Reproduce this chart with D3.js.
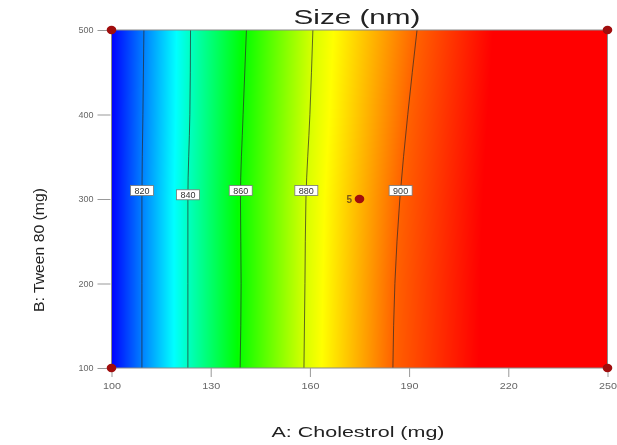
<!DOCTYPE html>
<html>
<head>
<meta charset="utf-8">
<script src="https://cdn.jsdelivr.net/npm/d3@7/dist/d3.min.js"></script>
<style>
  html, body { margin: 0; padding: 0; background: #fff; }
  #wrap { position: relative; width: 617px; height: 445px; }
  #wrap canvas, #wrap svg { position: absolute; left: 0; top: 0; }
  text { font-family: "Liberation Sans", Arial, sans-serif; }
</style>
</head>
<body>
<div id="wrap">
  <canvas id="field" width="617" height="445"></canvas>
  <svg id="chart" width="617" height="445"></svg>
</div>
<script>
// Response surface: Size (nm) vs Cholestrol (A) and Tween 80 (B)
const tweenRows = [100, 200, 300, 400, 500];          // B values where contour crossings were measured
const contourLevels = [820, 840, 860, 880, 900];
// Cholestrol value (A) of each contour at the rows above
const contour820 = [109.2, 109.2, 109.2, 109.5, 109.8];
const contour840 = [123.1, 123.1, 123.1, 123.7, 123.9];
const contour860 = [138.9, 139.2, 139.0, 139.8, 140.8];
const contour880 = [158.2, 158.5, 158.8, 160.0, 160.9];
const contour900 = [185.1, 185.7, 187.2, 189.6, 192.4];
const contourA = [contour820, contour840, contour860, contour880, contour900];
// Response at the A = 100 and A = 250 edges
const edgeLowSize = [806, 806, 806, 806, 806];
const edgeHighSize = [925, 925, 925, 925, 925];
// Colour ramp of the response
const colorSizes = [806, 834, 859, 884, 910];
const colorRamp = ["#0000ff", "#00ffff", "#00ff00", "#ffff00", "#ff0000"];
// Design points
const designPoints = [
  {a: 100, b: 100, label: ""}, {a: 100, b: 500, label: ""},
  {a: 250, b: 100, label: ""}, {a: 250, b: 500, label: ""},
  {a: 175, b: 300, label: "5"}
];
const xTicks = [100, 130, 160, 190, 220, 250];
const yTicks = [100, 200, 300, 400, 500];
const labelTween = [310, 305, 310, 310, 310];   // B where each contour label sits

const plotL = 111.5, plotR = 607.5, plotT = 30, plotB = 368;
const x = d3.scaleLinear().domain([100, 250]).range([plotL, plotR]);
const y = d3.scaleLinear().domain([100, 500]).range([plotB, plotT]);
const color = d3.scaleLinear().domain(colorSizes).range(colorRamp).clamp(true);

// contour crossing of each level as a function of B
const crossAt = contourA.map(arr => d3.scaleLinear().domain(tweenRows).range(arr));
const lowAt = d3.scaleLinear().domain(tweenRows).range(edgeLowSize);
const highAt = d3.scaleLinear().domain(tweenRows).range(edgeHighSize);

// ---- filled surface on canvas ----
const ctx = document.getElementById("field").getContext("2d");
const px0 = Math.round(plotL), px1 = Math.round(plotR), py0 = Math.round(plotT), py1 = Math.round(plotB);
const img = ctx.createImageData(px1 - px0, py1 - py0);
for (let py = py0; py < py1; py++) {
  const b = y.invert(py + 0.5);
  const sizeOfA = d3.scaleLinear()
    .domain([100, ...crossAt.map(f => f(b)), 250])
    .range([lowAt(b), ...contourLevels, highAt(b)]);
  for (let px = px0; px < px1; px++) {
    const c = d3.rgb(color(sizeOfA(x.invert(px + 0.5))));
    const i = ((py - py0) * (px1 - px0) + (px - px0)) * 4;
    img.data[i] = c.r; img.data[i + 1] = c.g; img.data[i + 2] = c.b; img.data[i + 3] = 255;
  }
}
ctx.putImageData(img, px0, py0);

// ---- SVG overlay ----
const svg = d3.select("#chart");

// contour lines
const line = d3.line().x(d => x(d[0])).y(d => y(d[1])).curve(d3.curveMonotoneY);
svg.append("g").selectAll("path").data(contourA).join("path")
  .attr("d", arr => line(arr.map((a, i) => [a, tweenRows[i]])))
  .attr("fill", "none").attr("stroke", "#2a2a2a").attr("stroke-opacity", 0.7).attr("stroke-width", 1);

// frame
svg.append("rect").attr("x", plotL).attr("y", plotT).attr("width", plotR - plotL).attr("height", plotB - plotT)
  .attr("fill", "none").attr("stroke", "#8a8a8a").attr("stroke-width", 1);

// contour labels
const lab = svg.append("g").selectAll("g").data(contourLevels).join("g")
  .attr("transform", (lv, i) => `translate(${x(crossAt[i](labelTween[i]))},${y(labelTween[i])})`);
lab.append("rect").attr("x", -11.5).attr("y", -5).attr("width", 23).attr("height", 10)
  .attr("fill", "#fff").attr("stroke", "#777").attr("stroke-width", 0.8);
lab.append("text").text(d => d).attr("text-anchor", "middle").attr("y", 3.5)
  .attr("font-size", 9).attr("fill", "#333");

// axes
const xAxis = svg.append("g").attr("transform", `translate(0,${plotB})`)
  .call(d3.axisBottom(x).tickValues(xTicks).tickSize(9).tickPadding(6).tickFormat(d3.format("d")));
const yAxis = svg.append("g").attr("transform", `translate(${plotL - 1},0)`)
  .call(d3.axisLeft(y).tickValues(yTicks).tickSize(13).tickPadding(4).tickFormat(d3.format("d")));
[xAxis, yAxis].forEach(g => {
  g.select(".domain").remove();
  g.selectAll(".tick line").attr("stroke", "#999");
  g.selectAll(".tick text").attr("fill", "#666").attr("font-size", 9)
    .attr("font-family", "'Liberation Sans', Arial, sans-serif");
});
xAxis.selectAll(".tick text").attr("textLength", 18).attr("lengthAdjust", "spacingAndGlyphs");

// design points
const pts = svg.append("g").selectAll("g").data(designPoints).join("g")
  .attr("transform", d => `translate(${x(d.a)},${y(d.b)})`);
pts.append("ellipse").attr("rx", 4.8).attr("ry", 4.2).attr("fill", "#a00d0d");
pts.append("text").text(d => d.label).attr("x", -13).attr("y", 4)
  .attr("font-size", 10).attr("font-weight", "bold").attr("fill", "#7a5a18");

// titles
svg.append("text").text("Size (nm)").attr("x", 357).attr("y", 24).attr("text-anchor", "middle")
  .attr("font-size", 21).attr("fill", "#222").attr("textLength", 127).attr("lengthAdjust", "spacingAndGlyphs");
svg.append("text").text("A: Cholestrol (mg)").attr("x", 358).attr("y", 437).attr("text-anchor", "middle")
  .attr("font-size", 15).attr("fill", "#222").attr("textLength", 173).attr("lengthAdjust", "spacingAndGlyphs");
svg.append("text").text("B: Tween 80 (mg)")
  .attr("transform", "translate(44,250) rotate(-90)").attr("text-anchor", "middle")
  .attr("font-size", 15).attr("fill", "#222").attr("textLength", 124).attr("lengthAdjust", "spacingAndGlyphs");
</script>
</body>
</html>
